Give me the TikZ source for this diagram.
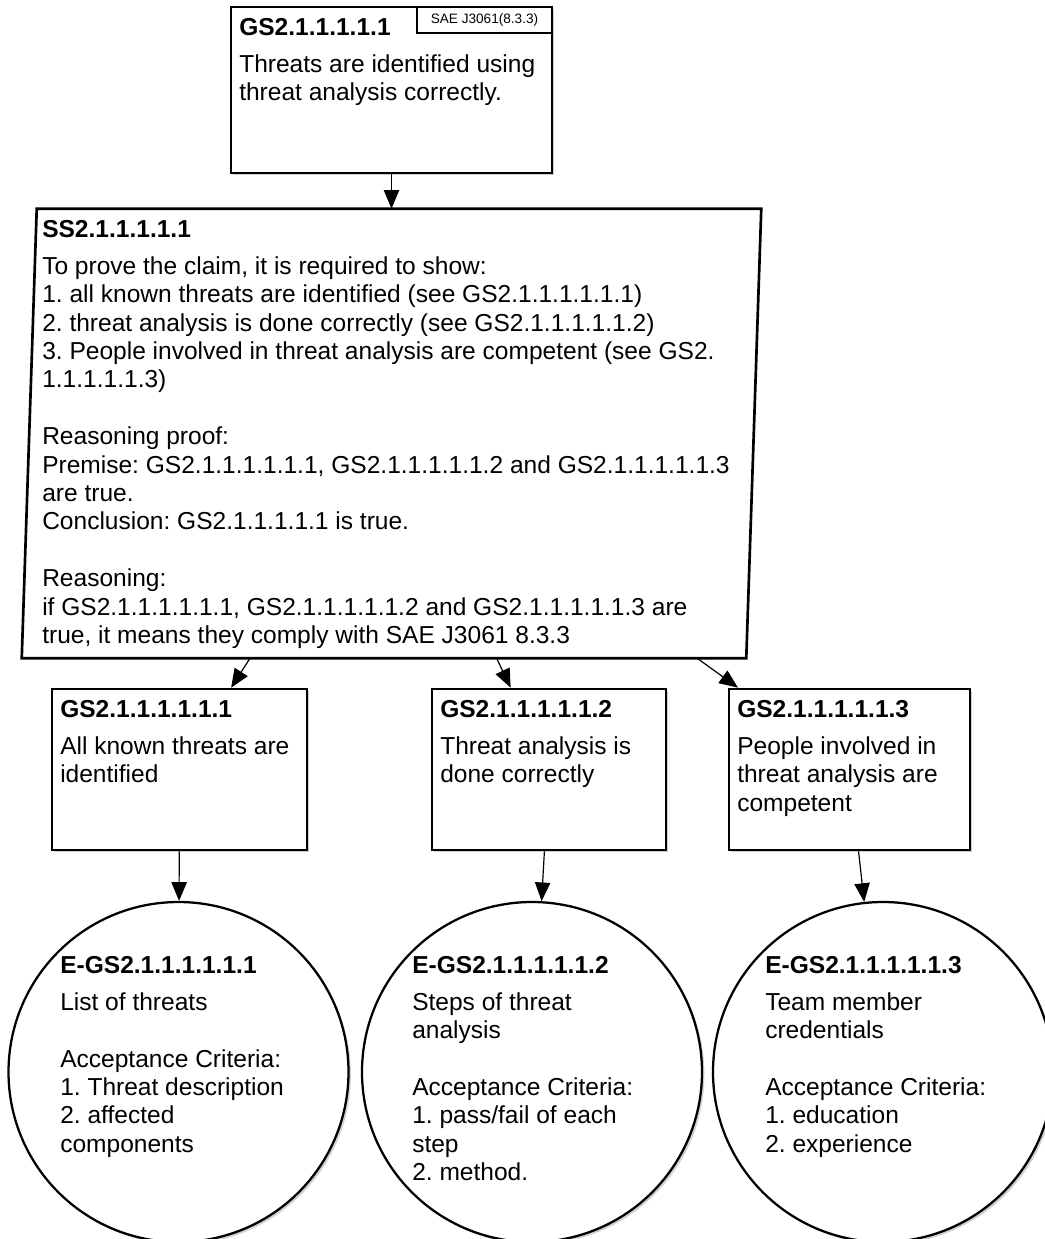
\documentclass[tikz,border=0pt]{standalone}
\usepackage{fontspec}
\setmainfont{Liberation Sans}
\frenchspacing
\usetikzlibrary{arrows.meta,fit,shadows}
\begin{document}
\begin{tikzpicture}[x=0.75pt,y=-0.75pt,
  shade/.style={drop shadow={shadow xshift=1.8pt,shadow yshift=-1.8pt,fill=black!30,opacity=0.6}},
  goalbox/.style={rectangle,draw=black,line width=2pt,fill=white,inner sep=0pt,shade},
  refbox/.style={rectangle,draw=black,line width=1.5pt,fill=white,inner sep=0pt},
  stratbox/.style={draw=black,line width=2pt,fill=white,line join=miter},
  evid/.style={circle,draw=black,line width=1.7pt,fill=white,inner sep=0pt,minimum size=255pt,shade},
  txt/.style={anchor=north west,align=left,inner sep=0pt,font=\fontsize{18.4pt}{21.3pt}\selectfont},
  arr/.style={-{Triangle[length=14pt,width=11.5pt]},line width=0.9pt}]

% page
\fill[white] (0,0) rectangle (1045,1239);
\useasboundingbox (0,0) rectangle (1045,1239);

% top goal
\node[goalbox,fit={(231,7)(552,173)}] (top) {};
\node[refbox,fit={(417,7)(552,33)}] (ref) {};
\node[inner sep=0pt,font=\fontsize{10.2pt}{12pt}\selectfont] (reftxt) at (ref.center) {SAE J3061(8.3.3)};

% strategy (parallelogram)
\node[inner sep=0pt,fit={(22,209)(761,658)}] (ss) {};
\fill[black!30,opacity=0.6,shift={(1.8pt,-1.8pt)}]
  ([xshift=11.25pt]ss.north west) -- (ss.north east) -- ([xshift=-11.25pt]ss.south east) -- (ss.south west) -- cycle;
\draw[stratbox]
  ([xshift=11.25pt]ss.north west) -- (ss.north east) -- ([xshift=-11.25pt]ss.south east) -- (ss.south west) -- cycle;

% sub-goals
\node[goalbox,fit={(52,689)(307,850)}] (g1) {};
\node[goalbox,fit={(432,689)(666,850)}] (g2) {};
\node[goalbox,fit={(729,689)(970,850)}] (g3) {};

% evidence
\node[evid] (e1) at (178.5,1072) {};
\node[evid] (e2) at (532,1072) {};
\node[evid] (e3) at (883,1072) {};

% connectors
\draw[arr] (top) -- (ss);
\draw[arr] (ss) -- (g1);
\draw[arr] (ss) -- (g2);
\draw[arr] (ss) -- (g3);
\draw[arr] (g1) -- (e1);
\draw[arr] (g2) -- (e2);
\draw[arr] (g3) -- (e3);

% texts
\node[txt] (toptxt) at (239,18) {\textbf{GS2.1.1.1.1.1}\\[6.4pt]Threats are identified using\\threat analysis correctly.};

\node[txt] (sstxt) at (42,220) {\textbf{SS2.1.1.1.1.1}\\[6.4pt]%
To prove the claim, it is required to show:\\
1. all known threats are identified (see GS2.1.1.1.1.1.1)\\
2. threat analysis is done correctly (see GS2.1.1.1.1.1.2)\\
3. People involved in threat analysis are competent (see GS2.\\
1.1.1.1.1.3)\\[21.3pt]
Reasoning proof:\\
Premise: GS2.1.1.1.1.1.1, GS2.1.1.1.1.1.2 and GS2.1.1.1.1.1.3\\
are true.\\
Conclusion: GS2.1.1.1.1.1 is true.\\[21.3pt]
Reasoning:\\
if GS2.1.1.1.1.1.1, GS2.1.1.1.1.1.2 and GS2.1.1.1.1.1.3 are\\
true, it means they comply with SAE J3061 8.3.3};

\node[txt] (g1txt) at (60,700) {\textbf{GS2.1.1.1.1.1.1}\\[6.4pt]All known threats are\\identified};
\node[txt] (g2txt) at (440,700) {\textbf{GS2.1.1.1.1.1.2}\\[6.4pt]Threat analysis is\\done correctly};
\node[txt] (g3txt) at (737,700) {\textbf{GS2.1.1.1.1.1.3}\\[6.4pt]People involved in\\threat analysis are\\competent};

\node[txt] (e1txt) at (60,956) {\textbf{E-GS2.1.1.1.1.1.1}\\[6.4pt]List of threats\\[21.3pt]Acceptance Criteria:\\1. Threat description\\2. affected\\components};
\node[txt] (e2txt) at (412,956) {\textbf{E-GS2.1.1.1.1.1.2}\\[6.4pt]Steps of threat\\analysis\\[21.3pt]Acceptance Criteria:\\1. pass/fail of each\\step\\2. method.};
\node[txt] (e3txt) at (765,956) {\textbf{E-GS2.1.1.1.1.1.3}\\[6.4pt]Team member\\credentials\\[21.3pt]Acceptance Criteria:\\1. education\\2. experience};
\end{tikzpicture}
\end{document}
